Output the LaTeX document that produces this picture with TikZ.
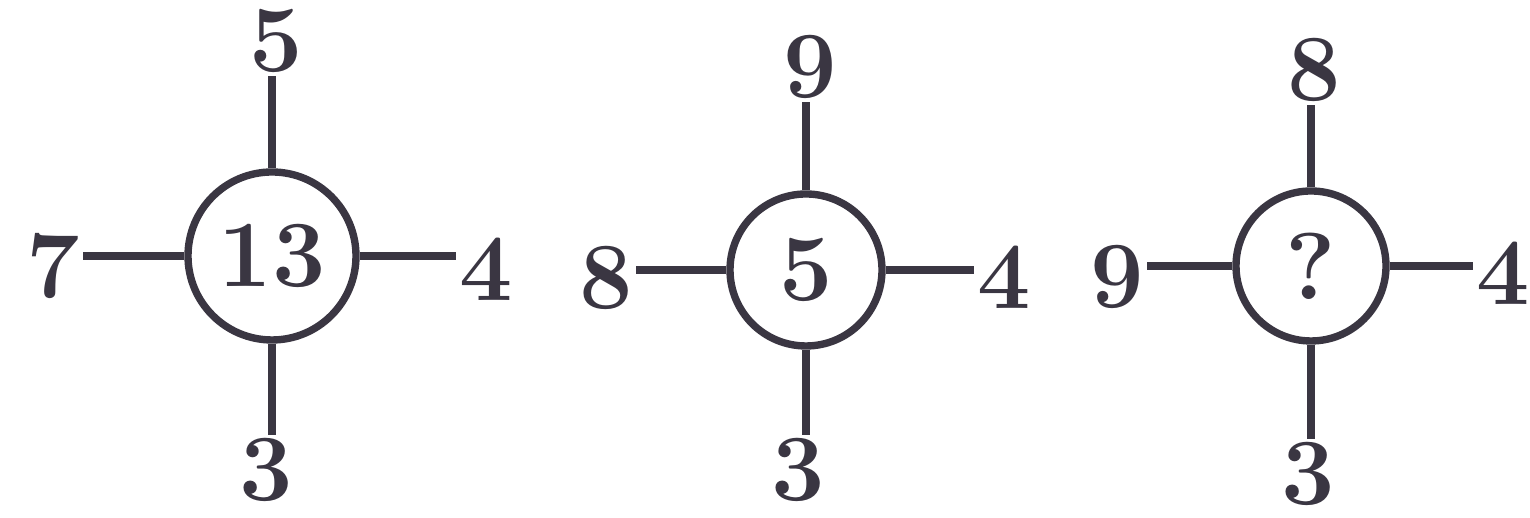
\documentclass[tikz,border=0pt]{standalone}
\usepackage{xcolor}
\usepackage{tikz}
\usetikzlibrary{positioning}
\definecolor{ink}{RGB}{58,54,66}

\begin{document}
\begin{tikzpicture}[
  font=\fontsize{27}{30}\selectfont\bfseries,
  num/.style={text=ink, inner xsep=0.03cm, inner ysep=0.03cm, outer sep=0pt},
  ring/.style={circle, draw=ink, line width=2.1pt, text=ink, inner sep=0pt},
  ln/.style={draw=ink, line width=2.1pt}
]
\useasboundingbox (0,0) rectangle (15.3,5.18);
% first cross
\node[ring, minimum size=1.68cm] (c1) at (2.72,2.62) {13};
\node[num] (t1) at (2.76,4.77) {5};
\node[num] (l1) at (0.53,2.52) {7};
\node[num] (r1) at (4.86,2.49) {4};
\node[num] (b1) at (2.66,0.48) {3};
% second cross
\node[ring, minimum size=1.52cm] (c2) at (8.06,2.48) {5};
\node[num] (t2) at (8.10,4.51) {9};
\node[num] (l2) at (6.06,2.40) {8};
\node[num] (r2) at (10.04,2.41) {4};
\node[num] (b2) at (7.98,0.48) {3};
% third cross
\node[ring, minimum size=1.50cm] (c3) at (13.11,2.52) {?};
\node[num] (t3) at (13.14,4.48) {8};
\node[num] (l3) at (11.17,2.41) {9};
\node[num] (r3) at (15.03,2.45) {4};
\node[num] (b3) at (13.08,0.44) {3};
\foreach \i in {1,2,3}{
  \draw[ln] (c\i.north) -- (c\i.north |- t\i.south);
  \draw[ln] (c\i.south) -- (c\i.south |- b\i.north);
  \draw[ln] (c\i.west) -- (c\i.west -| l\i.east);
  \draw[ln] (c\i.east) -- (c\i.east -| r\i.west);
}
\end{tikzpicture}
\end{document}
